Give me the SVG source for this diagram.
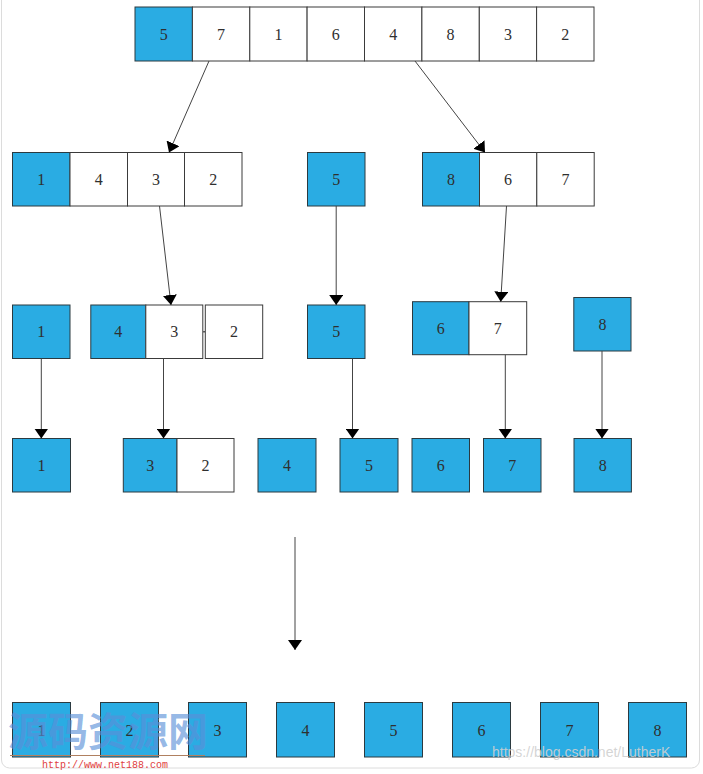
<svg xmlns="http://www.w3.org/2000/svg" width="703" height="774" viewBox="0 0 703 774">
<style>
.b{fill:#2aace3;stroke:#2b3a40;stroke-width:1}
.w{fill:#ffffff;stroke:#3a3a3a;stroke-width:1}
.t{font-family:"Liberation Serif","DejaVu Serif",serif;font-size:16px;fill:#2f2f2f;text-anchor:middle}
.c{stroke:#444;stroke-width:1;fill:none;marker-end:url(#ah)}
</style>
<defs>
<marker id="ah" viewBox="0 0 10 14" refX="10" refY="7" markerWidth="10" markerHeight="14" markerUnits="userSpaceOnUse" orient="auto">
<path d="M0,0 L10,7 L0,14 z" fill="#000"/>
</marker>
</defs>
<rect x="1.5" y="-10" width="698" height="778" rx="8" fill="#fff" stroke="#dcdcdc"/>

<g id="row0">
<rect class="b" x="135" y="7" width="57.4" height="54"/><text class="t" x="163.7" y="39.5">5</text>
<rect class="w" x="192.4" y="7" width="57.4" height="54"/><text class="t" x="221.1" y="39.5">7</text>
<rect class="w" x="249.8" y="7" width="57.3" height="54"/><text class="t" x="278.4" y="39.5">1</text>
<rect class="w" x="307.1" y="7" width="57.4" height="54"/><text class="t" x="335.8" y="39.5">6</text>
<rect class="w" x="364.5" y="7" width="57.4" height="54"/><text class="t" x="393.2" y="39.5">4</text>
<rect class="w" x="421.9" y="7" width="57.4" height="54"/><text class="t" x="450.6" y="39.5">8</text>
<rect class="w" x="479.3" y="7" width="57.3" height="54"/><text class="t" x="507.9" y="39.5">3</text>
<rect class="w" x="536.6" y="7" width="57.4" height="54"/><text class="t" x="565.3" y="39.5">2</text>
</g>

<g id="row1-left">
<rect class="b" x="12.5" y="152.5" width="57.5" height="53.5"/><text class="t" x="41.2" y="184.5">1</text>
<rect class="w" x="70" y="152.5" width="57.5" height="53.5"/><text class="t" x="98.7" y="184.5">4</text>
<rect class="w" x="127.5" y="152.5" width="57" height="53.5"/><text class="t" x="156" y="184.5">3</text>
<rect class="w" x="184.5" y="152.5" width="57.5" height="53.5"/><text class="t" x="213.2" y="184.5">2</text>
</g>
<g id="row1-mid">
<rect class="b" x="307.5" y="152.5" width="57.5" height="53.5"/><text class="t" x="336.2" y="184.5">5</text>
</g>
<g id="row1-right">
<rect class="b" x="422.5" y="152.5" width="57" height="53.5"/><text class="t" x="451" y="184.5">8</text>
<rect class="w" x="479.5" y="152.5" width="57.3" height="53.5"/><text class="t" x="508.1" y="184.5">6</text>
<rect class="w" x="536.8" y="152.5" width="57.4" height="53.5"/><text class="t" x="565.5" y="184.5">7</text>
</g>

<g id="row2-1">
<rect class="b" x="12.5" y="305" width="57.5" height="53.5"/><text class="t" x="41.2" y="337">1</text>
</g>
<g id="row2-432">
<rect class="b" x="90.8" y="305" width="55" height="53.5"/><text class="t" x="118.3" y="337">4</text>
<rect class="w" x="145.8" y="305" width="57" height="53.5"/><text class="t" x="174.3" y="337">3</text>
<rect class="w" x="205.3" y="305" width="57.4" height="53.5"/><text class="t" x="234" y="337">2</text>
<rect x="203.3" y="331" width="1.5" height="1.5" fill="#333"/>
</g>
<g id="row2-5">
<rect class="b" x="307.5" y="305" width="57.5" height="53.5"/><text class="t" x="336.2" y="337">5</text>
</g>
<g id="row2-67">
<rect class="b" x="412.5" y="301.7" width="56.5" height="53"/><text class="t" x="440.7" y="333.5">6</text>
<rect class="w" x="469" y="301.7" width="57.7" height="53"/><text class="t" x="497.8" y="333.5">7</text>
</g>
<g id="row2-8">
<rect class="b" x="573.8" y="297.5" width="57.2" height="53.5"/><text class="t" x="602.4" y="329.5">8</text>
</g>

<g id="row3">
<rect class="b" x="12.5" y="438.5" width="58" height="53.5"/><text class="t" x="41.5" y="470.5">1</text>
<rect class="b" x="123.3" y="438.5" width="53.7" height="53.5"/><text class="t" x="150.2" y="470.5">3</text>
<rect class="w" x="177" y="438.5" width="57" height="53.5"/><text class="t" x="205.5" y="470.5">2</text>
<rect class="b" x="258" y="438.5" width="58" height="53.5"/><text class="t" x="287" y="470.5">4</text>
<rect class="b" x="340" y="438.5" width="58" height="53.5"/><text class="t" x="369" y="470.5">5</text>
<rect class="b" x="412" y="438.5" width="57.5" height="53.5"/><text class="t" x="440.7" y="470.5">6</text>
<rect class="b" x="483.5" y="438.5" width="57.5" height="53.5"/><text class="t" x="512.2" y="470.5">7</text>
<rect class="b" x="574" y="438.5" width="57.4" height="53.5"/><text class="t" x="602.7" y="470.5">8</text>
</g>

<g id="row4">
<rect class="b" x="12.5" y="702.5" width="58" height="54.5"/><text class="t" x="41.5" y="735.5">1</text>
<rect class="b" x="100.5" y="702.5" width="58" height="54.5"/><text class="t" x="129.5" y="735.5">2</text>
<rect class="b" x="188.5" y="702.5" width="58" height="54.5"/><text class="t" x="217.5" y="735.5">3</text>
<rect class="b" x="276.5" y="702.5" width="58" height="54.5"/><text class="t" x="305.5" y="735.5">4</text>
<rect class="b" x="364.5" y="702.5" width="58" height="54.5"/><text class="t" x="393.5" y="735.5">5</text>
<rect class="b" x="452.5" y="702.5" width="58" height="54.5"/><text class="t" x="481.5" y="735.5">6</text>
<rect class="b" x="540.5" y="702.5" width="58" height="54.5"/><text class="t" x="569.5" y="735.5">7</text>
<rect class="b" x="628.5" y="702.5" width="58" height="54.5"/><text class="t" x="657.5" y="735.5">8</text>
</g>

<g id="connectors">
<line class="c" x1="209" y1="61" x2="169" y2="152.5"/>
<line class="c" x1="415" y1="61" x2="485" y2="152.5"/>
<line class="c" x1="159.5" y1="206" x2="171" y2="305"/>
<line class="c" x1="336.2" y1="206" x2="336.2" y2="305"/>
<line class="c" x1="506.5" y1="206" x2="500.7" y2="301.7"/>
<line class="c" x1="41.3" y1="358.5" x2="41.3" y2="438.5"/>
<line class="c" x1="163.5" y1="358.5" x2="163.5" y2="438.5"/>
<line class="c" x1="352.5" y1="358.5" x2="352.5" y2="438.5"/>
<line class="c" x1="505.3" y1="354.7" x2="505.3" y2="438.5"/>
<line class="c" x1="602" y1="351" x2="602" y2="438.5"/>
<line class="c" x1="295" y1="537" x2="295" y2="650"/>
</g>

<g id="watermark">
<text x="8" y="746" font-family="'Noto Sans CJK SC',sans-serif" font-weight="bold" font-size="40" fill="#5a8fd8" fill-opacity="0.65">源码资源网</text>
<line x1="10" y1="755.5" x2="205" y2="755.5" stroke="#b08060" stroke-width="1"/>
<text x="42" y="768" font-family="'Liberation Mono',monospace" font-size="10" fill="#e04040">http://www.net188.com</text>
<text x="492" y="757" font-family="'Liberation Sans',sans-serif" font-size="14" fill="#d0d0d0" fill-opacity="0.9">https://blog.csdn.net/LutherK</text>
</g>
</svg>
